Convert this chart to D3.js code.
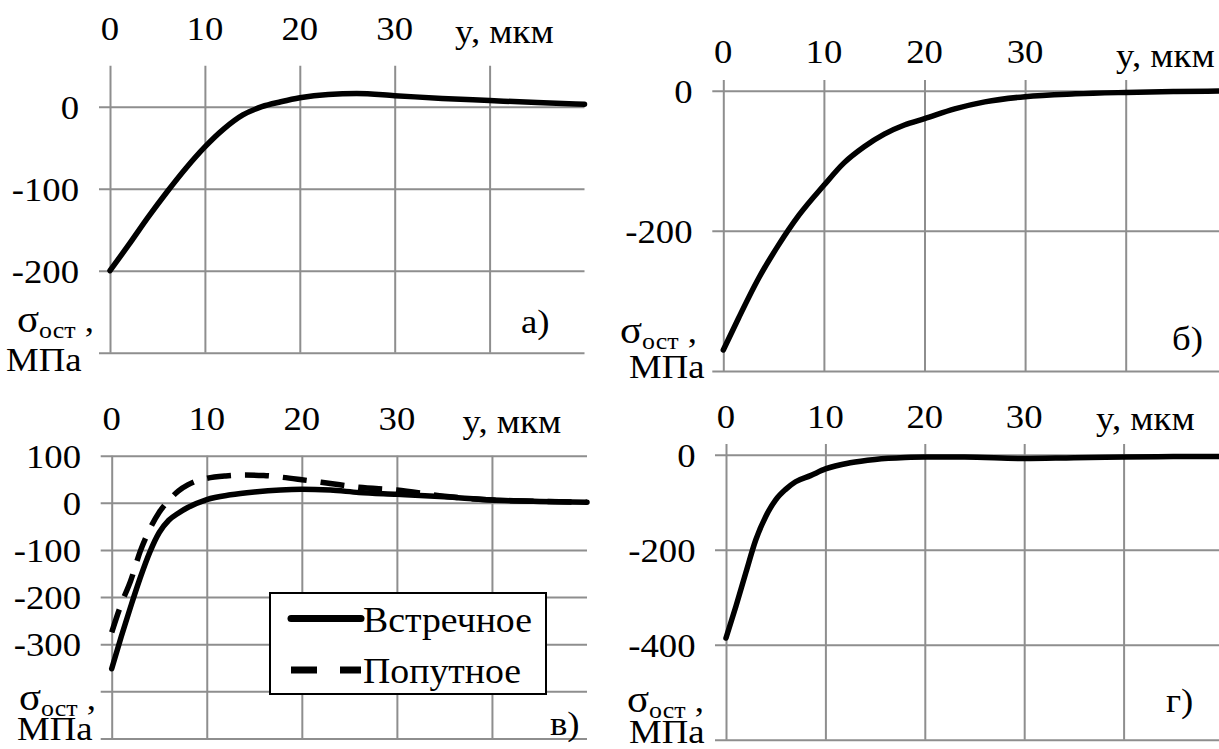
<!DOCTYPE html>
<html>
<head>
<meta charset="utf-8">
<script src="https://cdn.jsdelivr.net/npm/d3@7"></script>
<style>
  body { margin: 0; background: #fff; }
  svg { display: block; }
  text { font-family: "Liberation Serif", "DejaVu Serif", serif; }
</style>
</head>
<body>
<svg id="chart" width="1219" height="749"></svg>
<script>
// ---- data ----
// а)
const aDepth  = [0, 2, 4, 6, 8, 10, 12, 14, 16, 18, 20, 23, 26, 30, 35, 40, 45, 50];
const aStress = [-200, -168, -135, -104, -75, -49, -27, -10, 0, 6, 11, 15, 16, 13.5, 10, 7.5, 5, 3];
// б)
const bDepth  = [0, 1.5, 3.5, 5.5, 7.5, 10, 12, 14, 16, 18, 20, 23, 26, 30, 35, 40, 45, 50];
const bStress = [-370, -325, -268, -220, -178, -135, -103, -80, -62, -49, -40, -26, -16, -8.5, -4.5, -2.5, -1.2, -0.5];
// в) встречное
const vDepth1  = [0, 1, 2, 3, 4, 5, 6, 7, 8, 10, 12.5, 15, 20, 23, 26, 30, 35, 40, 45, 50];
const vStress1 = [-352, -284, -220, -159, -105, -63, -37, -22, -10, 7, 17, 23, 29, 27, 22, 18, 12.7, 6, 3, 1.4];
// в) попутное
const vDepth2  = [0, 1, 2, 3, 4, 5, 6, 7, 8, 9, 10, 12, 14, 16, 18, 20, 23, 26, 30, 35, 40, 45, 50];
const vStress2 = [-275, -215, -165, -103, -56, -20, 5, 25, 38, 47, 52, 57, 59, 58, 54, 49, 41, 33, 27, 14, 6, 3, 1.4];
// г)
const gDepth  = [0, 1, 2, 3, 4, 5, 6, 7, 8.5, 10, 12.5, 15, 18, 20, 24, 30, 35, 40, 45, 50];
const gStress = [-386, -319, -248, -179, -130, -95, -73, -57, -44, -30, -17, -10, -6, -5, -5, -8, -6.3, -5, -4, -3.5];

const xGrid = [0, 10, 20, 30, 40];
const xLabels = [0, 10, 20, 30];
const xTitle = 'y, мкм';
const legendNames = ['Встречное', 'Попутное'];
const panelNames = ['а)', 'б)', 'в)', 'г)'];

const FONT = '"Liberation Serif", "DejaVu Serif", serif';
const SX = 1.08;          // text in the picture is a bit stretched sideways
const GRID = '#8e8e8e';

const svg = d3.select('#chart');

const zip = (xs, ys) => xs.map((d, i) => [d, ys[i]]);

function txt(g, x, y, s, size, anchor = 'start') {
    return g.append('text')
        .attr('transform', `translate(${x},${y}) scale(${SX},1)`)
        .attr('text-anchor', anchor)
        .style('font-family', FONT)
        .style('font-size', size + 'px')
        .attr('fill', '#000')
        .text(s);
}

// layout of each panel (pixel positions)
const panels = [
    { name: panelNames[0], px: [110, 584.5], dom: [0, -300], py: [106.7, 352.7], top: 50,
      yGrid: [0, -100, -200, -300], yLabels: [0, -100, -200], xRight: 584.5,
      tickBase: 39.5, labelEnd: 79, title: [455, 43], sigma: [17, 332], mpa: [6, 371], letter: [521, 333],
      series: [{ pts: zip(aDepth, aStress), dash: null }] },
    { name: panelNames[1], px: [723.3, 1226.3], dom: [0, -400], py: [90.7, 371], top: 15.3,
      yGrid: [0, -200, -400], yLabels: [0, -200], xRight: 1230,
      tickBase: 63.3, labelEnd: 692.5, title: [1116, 66.7], sigma: [620, 343], mpa: [629, 378], letter: [1172, 350],
      series: [{ pts: zip(bDepth, bStress), dash: null }] },
    { name: panelNames[2], px: [111.7, 587], dom: [100, -500], py: [455.7, 738.5], top: 100,
      yGrid: [100, 0, -100, -200, -300, -400, -500], yLabels: [100, 0, -100, -200, -300], xRight: 587,
      tickBase: 430, labelEnd: 81, title: [462.5, 433], sigma: [19, 710], mpa: [17, 740], letter: [550, 735],
      series: [{ pts: zip(vDepth2, vStress2), dash: '24,14' }, { pts: zip(vDepth1, vStress1), dash: null }],
      legend: true },
    { name: panelNames[3], px: [726, 1223], dom: [0, -600], py: [454.7, 739.7], top: 22.5,
      yGrid: [0, -200, -400, -600], yLabels: [0, -200, -400], xRight: 1230,
      tickBase: 427.5, labelEnd: 695.5, title: [1096, 430], sigma: [627, 712], mpa: [629, 743], letter: [1166, 712],
      series: [{ pts: zip(gDepth, gStress), dash: null }] }
];

panels.forEach(p => {
    const x = d3.scaleLinear().domain([0, 50]).range(p.px);
    const y = d3.scaleLinear().domain(p.dom).range(p.py);
    const bottom = p.yGrid[p.yGrid.length - 1];
    const g = svg.append('g');

    // vertical grid lines
    g.append('g')
        .attr('transform', `translate(0,${y(p.top)})`)
        .call(d3.axisBottom(x).tickValues(xGrid).tickSize(y(bottom) - y(p.top)).tickFormat(''))
        .call(s => s.select('.domain').remove())
        .call(s => s.selectAll('line').attr('stroke', GRID).attr('stroke-width', 2));

    // horizontal grid lines (stick out 11px to the left of the y axis)
    g.append('g')
        .attr('transform', `translate(${x(0) - 11},0)`)
        .call(d3.axisRight(y).tickValues(p.yGrid).tickSize(p.xRight - x(0) + 11).tickFormat(''))
        .call(s => s.select('.domain').remove())
        .call(s => s.selectAll('line').attr('stroke', GRID).attr('stroke-width', 2));

    // tick labels
    xLabels.forEach(v => txt(g, x(v), p.tickBase, v, 34, 'middle'));
    p.yLabels.forEach(v => txt(g, p.labelEnd, y(v) + 12, v, 34, 'end'));
    txt(g, p.title[0], p.title[1], xTitle, 34);

    // σ_ост , МПа
    const s = g.append('text')
        .attr('transform', `translate(${p.sigma[0]},${p.sigma[1]}) scale(${SX},1)`)
        .style('font-family', FONT);
    s.append('tspan').style('font-size', '38px').text('σ');
    s.append('tspan').style('font-size', '24px').attr('dy', 6).text('ост');
    s.append('tspan').style('font-size', '34px').attr('dy', -6).text(' ,');
    txt(g, p.mpa[0], p.mpa[1], 'МПа', 34);
    txt(g, p.letter[0], p.letter[1], p.name, 34);

    // curves
    const line = d3.line()
        .x(d => x(d[0]))
        .y(d => y(d[1]))
        .curve(d3.curveMonotoneX);

    p.series.forEach(sr => {
        g.append('path')
            .datum(sr.pts)
            .attr('d', line)
            .attr('fill', 'none')
            .attr('stroke', '#000')
            .attr('stroke-width', 5.5)
            .attr('stroke-linecap', sr.dash ? 'butt' : 'round')
            .attr('stroke-linejoin', 'round')
            .attr('stroke-dasharray', sr.dash);
    });

    // legend
    if (p.legend) {
        const lg = g.append('g');
        lg.append('rect')
            .attr('x', 270).attr('y', 593).attr('width', 276).attr('height', 101)
            .attr('fill', '#fff').attr('stroke', '#000').attr('stroke-width', 2);
        lg.append('line')
            .attr('x1', 291).attr('x2', 361).attr('y1', 618.5).attr('y2', 618.5)
            .attr('stroke', '#000').attr('stroke-width', 7).attr('stroke-linecap', 'round');
        lg.append('line')
            .attr('x1', 291).attr('x2', 361).attr('y1', 670).attr('y2', 670)
            .attr('stroke', '#000').attr('stroke-width', 7).attr('stroke-dasharray', '26,23');
        txt(lg, 363, 632, legendNames[0], 35);
        txt(lg, 363, 683, legendNames[1], 35);
    }
});
</script>
</body>
</html>
